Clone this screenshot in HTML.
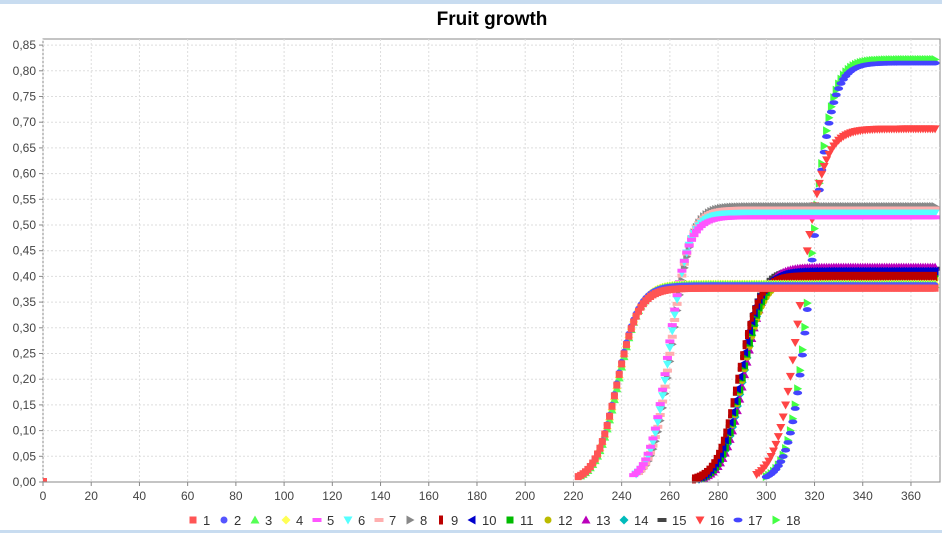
<!DOCTYPE html>
<html><head><meta charset="utf-8"><style>
body{margin:0;background:#fff;width:942px;height:533px;overflow:hidden;font-family:"Liberation Sans",sans-serif}
</style></head><body>
<svg id="s" width="942" height="533" xmlns="http://www.w3.org/2000/svg" font-family="Liberation Sans, sans-serif">
<rect x="0" y="0" width="942" height="4" fill="#c8dcf0"/>
<rect x="0" y="530" width="942" height="3" fill="#c8dcf0"/>
<text x="492" y="25" text-anchor="middle" font-size="19" font-weight="bold">Fruit growth</text>
<rect x="43" y="39" width="897" height="443" fill="#fff" stroke="#888"/>
<g id="grid"></g><g id="data"></g><g id="ax"></g><g id="leg"></g>
</svg>
<script>
const NS="http://www.w3.org/2000/svg";
function el(p,t,a){const e=document.createElementNS(NS,t);for(const k in a)e.setAttribute(k,a[k]);p.appendChild(e);return e;}
const X=v=>43+v*2.411, Y=v=>482-v*514;
const g=document.getElementById('grid'),ax=document.getElementById('ax'),d=document.getElementById('data'),lg=document.getElementById('leg');
for(let v=0;v<=360;v+=20){el(g,'line',{x1:X(v),x2:X(v),y1:39,y2:482,stroke:'#ddd','stroke-dasharray':'2,2'});
 el(ax,'line',{x1:X(v),x2:X(v),y1:482,y2:486,stroke:'#888'});
 const t=el(ax,'text',{x:X(v),y:500,'text-anchor':'middle','font-size':12,fill:'#444'});t.textContent=v;}
for(let i=0;i<=17;i++){const v=i*0.05;el(g,'line',{x1:43,x2:940,y1:Y(v),y2:Y(v),stroke:'#ddd','stroke-dasharray':'2,2'});
 el(ax,'line',{x1:39,x2:43,y1:Y(v),y2:Y(v),stroke:'#888'});
 const t=el(ax,'text',{x:36,y:Y(v)+4,'text-anchor':'end','font-size':12,fill:'#444'});t.textContent=v.toFixed(2).replace('.',',');}
el(ax,'line',{x1:43,x2:940,y1:482,y2:482,stroke:'#888'});
function mk(p,sh,x,y,c){const r=3.5;
 if(sh=='sq')el(p,'rect',{x:x-r,y:y-r,width:2*r,height:2*r,fill:c});
 else if(sh=='ci')el(p,'circle',{cx:x,cy:y,r:r,fill:c});
 else if(sh=='tu')el(p,'polygon',{points:`${x},${y-r-1} ${x-r-1},${y+r} ${x+r+1},${y+r}`,fill:c});
 else if(sh=='td')el(p,'polygon',{points:`${x},${y+r+1} ${x-r-1},${y-r} ${x+r+1},${y-r}`,fill:c});
 else if(sh=='di')el(p,'polygon',{points:`${x},${y-r-1} ${x+r+1},${y} ${x},${y+r+1} ${x-r-1},${y}`,fill:c});
 else if(sh=='hr')el(p,'rect',{x:x-r-1,y:y-2,width:2*r+2,height:4,fill:c});
 else if(sh=='vr')el(p,'rect',{x:x-2,y:y-r-1,width:4,height:2*r+2,fill:c});
 else if(sh=='el')el(p,'ellipse',{cx:x,cy:y,rx:r+1,ry:2.4,fill:c});
 else if(sh=='tl')el(p,'polygon',{points:`${x-r-1},${y} ${x+r},${y-r-1} ${x+r},${y+r+1}`,fill:c});
 else if(sh=='tr')el(p,'polygon',{points:`${x+r+1},${y} ${x-r},${y-r-1} ${x-r},${y+r+1}`,fill:c});}
const S=[
['sq','#ff5555',222,238,4.5,0.377],['ci','#5555ff',222,238,4.5,0.382],['tu','#55ff55',223,238.5,4.5,0.384],['di','#ffff55',223,238.5,4.5,0.385],
['hr','#ff55ff',245,259.5,4.0,0.515],['td','#55ffff',246,260,4.0,0.523],['hr','#ffafaf',247,260.5,4.0,0.532],['tr','#888888',248,261,4.0,0.536],
['vr','#bb0000',270,288,4.3,0.40],['tl','#0000cc',271,289,4.3,0.41],['sq','#00bb00',272,290,4.3,0.405],['ci','#bbbb00',272,290,4.3,0.395],['tu','#bb00bb',273,291,4.3,0.418],['di','#00bbbb',272,290.5,4.3,0.412],['hr','#444444',271,289.5,4.3,0.415],
['td','#ff4444',296,314,4.7,0.687],['el','#4444ff',300,318.5,4.2,0.815],['tr','#44ff44',300,318.3,4.2,0.822]];
for(let i=S.length-1;i>=0;i--){const s=S[i];for(let x=s[2];x<=370;x++){const y=s[5]/(1+Math.exp(-(x-s[3])/s[4]));mk(d,s[0],X(x),Y(y),s[1]);}}
el(d,'rect',{x:43,y:478,width:4,height:4,fill:'#ff5555'});
let lx=193;S.forEach((s,i)=>{mk(lg,s[0],lx,520,s[1]);const t=el(lg,'text',{x:lx+10,y:525,'font-size':13,fill:'#333'});t.textContent=i+1;lx+=i<9?31:38;});
</script>
</body></html>
